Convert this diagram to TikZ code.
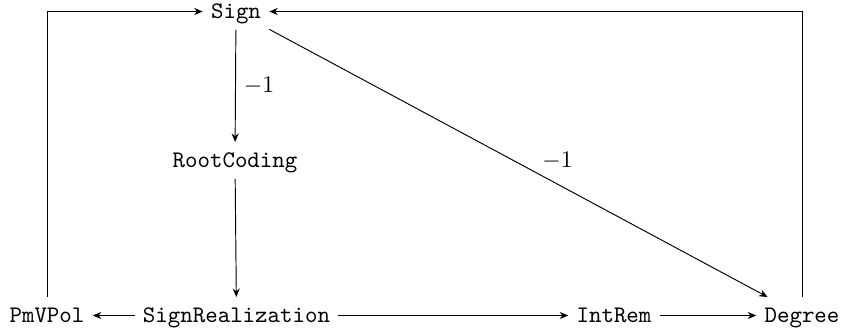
\documentclass[tikz,border=0pt]{standalone}
\usetikzlibrary{arrows.meta}
\begin{document}
\begin{tikzpicture}[x=0.421pt,y=-0.421pt,
  lbl/.style={font=\ttfamily, text height=7pt, text depth=1.5pt, inner sep=3.33pt},
  arr/.style={-{Stealth[length=3.6pt,width=3pt]}, line width=0.4pt}]
\useasboundingbox (0,0) rectangle (843,331);
\node[lbl] (Sign) at (236,11.5) {Sign};
\node[lbl] (RC) at (235,160.5) {RootCoding};
\node[lbl] (SR) at (236.5,315.5) {SignRealization};
\node[lbl] (PV) at (47,315.5) {PmVPol};
\node[lbl] (IR) at (614,315.5) {IntRem};
\node[lbl] (Deg) at (802,315.5) {Degree};
\draw[arr] (Sign) -- node[right] {$-1$} (RC);
\draw[arr] (RC) -- (SR);
\draw[arr] (SR) -- (PV);
\draw[arr] (SR) -- (IR);
\draw[arr] (IR) -- (Deg);
\draw[arr] (Sign) -- node[pos=0.54, anchor=south west, inner sep=1.5pt] {$-1$} (Deg);
\draw[arr] (PV) |- (Sign);
\draw[arr] (Deg) |- (Sign);
\end{tikzpicture}
\end{document}
